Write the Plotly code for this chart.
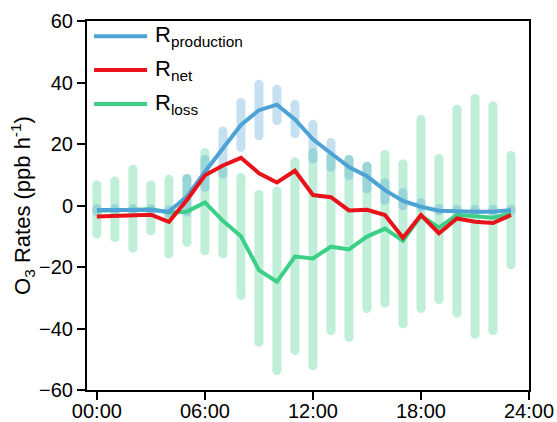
import plotly.graph_objects as go

# Hour of day for each value
hours = list(range(24))

# Mean O3 rates (ppb h-1)
r_production = [-1.5, -1.5, -1.5, -1.5, -2.0, 2.9, 11.0, 18.6, 26.2, 31.0, 32.8, 28.0,
                21.5, 17.0, 12.5, 9.5, 5.0, 1.5, -0.4, -1.7, -2.0, -2.0, -2.0, -1.5]
r_net = [-3.6, -3.4, -3.2, -3.0, -5.3, 1.8, 9.8, 13.0, 15.5, 10.5, 7.5, 11.3,
         3.4, 2.7, -1.6, -1.4, -3.1, -10.5, -3.1, -9.0, -4.2, -5.3, -5.7, -3.1]
r_loss = [-1.7, -1.5, -1.2, -1.2, -2.3, -2.0, 1.0, -5.0, -10.0, -21.0, -24.8, -16.6,
          -17.2, -13.4, -14.3, -10.1, -7.5, -11.5, -3.3, -7.2, -3.0, -3.4, -4.0, -2.5]

# Variability ranges (lower / upper) drawn as shaded bars
prod_low = [-2.0, -2.0, -2.0, -2.0, -2.6, -2.2, 5.9, 10.2, 18.9, 22.7, 27.6, 23.3,
            15.1, 12.4, 9.7, 5.4, 1.6, -0.1, -0.6, -1.7, -1.7, -1.7, -1.7, -1.7]
prod_high = [-1.0, -1.0, -1.0, -1.0, -1.4, 8.8, 15.0, 24.2, 33.5, 39.4, 37.8, 32.9,
             26.4, 20.5, 15.0, 12.8, 7.4, 4.2, 0.9, -0.9, -1.2, -1.2, -1.2, -1.2]
loss_low = [-9.3, -10.4, -13.9, -8.2, -15.8, -12.0, -14.7, -15.8, -29.3, -44.5, -53.7, -47.2,
            -52.1, -40.7, -42.9, -33.5, -31.7, -38.5, -33.5, -30.6, -35.0, -41.9, -40.7, -19.3]
loss_high = [6.7, 8.0, 11.8, 6.7, 8.5, 8.8, 17.2, 11.2, 9.1, 3.6, 4.7, 14.2,
             17.2, 15.6, 15.0, 12.8, 16.6, 13.6, 28.0, 15.3, 31.3, 34.8, 32.4, 16.3]

tick_vals = [0, 6, 12, 18, 24]
tick_text = ["00:00", "06:00", "12:00", "18:00", "24:00"]

series_names = ["R<sub>production</sub>", "R<sub>net</sub>", "R<sub>loss</sub>"]

BLUE = "#4ea3d6"
RED = "#e8121a"
GREEN = "#3ccf87"
FONT = "Arial, Liberation Sans, sans-serif"


def range_bars(x, lo, hi):
    """Vertical segments from lo to hi at each x, separated by gaps."""
    xs, ys = [], []
    for xi, a, b in zip(x, lo, hi):
        xs += [xi, xi, None]
        ys += [a, b, None]
    return xs, ys


fig = go.Figure()

# Shaded range bars (round ends come from end markers of the same width)
for lo, hi, col in [(loss_low, loss_high, GREEN), (prod_low, prod_high, BLUE)]:
    bx, by = range_bars(hours, lo, hi)
    fig.add_trace(go.Scatter(
        x=bx, y=by, mode="lines+markers",
        line=dict(color=col, width=9),
        marker=dict(color=col, size=9, line=dict(width=0)),
        opacity=0.32, hoverinfo="skip", showlegend=False,
    ))

# Mean lines
for vals, col in [(r_loss, GREEN), (r_production, BLUE), (r_net, RED)]:
    fig.add_trace(go.Scatter(
        x=hours, y=vals, mode="lines",
        line=dict(color=col, width=4),
        showlegend=False,
    ))

# Legend drawn as line samples with labels
legend_rows = [0.959, 0.867, 0.775]
for name, col, yy in zip(series_names, [BLUE, RED, GREEN], legend_rows):
    fig.add_shape(type="line", xref="paper", yref="paper",
                  x0=0.016, x1=0.136, y0=yy, y1=yy,
                  line=dict(color=col, width=4))
    fig.add_annotation(xref="paper", yref="paper", x=0.149, y=yy,
                       text=name, showarrow=False, xanchor="left", yanchor="middle",
                       font=dict(family=FONT, size=22, color="black"))

axis_common = dict(
    showline=True, linecolor="black", linewidth=2, mirror=True,
    ticks="outside", ticklen=8, tickwidth=2, tickcolor="black",
    showgrid=False, zeroline=False,
    tickfont=dict(family=FONT, size=20, color="black"),
)

fig.update_xaxes(range=[-0.55, 24], tickvals=tick_vals, ticktext=tick_text,
                 ticklabelstandoff=-6, **axis_common)
fig.update_yaxes(range=[-60, 60], tickvals=[-60, -40, -20, 0, 20, 40, 60],
                 title=dict(text="O<sub>3</sub> Rates (ppb h<sup>-1</sup>)",
                            font=dict(family=FONT, size=22, color="black"), standoff=2),
                 **axis_common)

fig.update_layout(
    width=557, height=422,
    margin=dict(l=87, r=28, t=21, b=32, autoexpand=False),
    plot_bgcolor="white", paper_bgcolor="white",
    showlegend=False,
)

fig.write_html("out.html")
